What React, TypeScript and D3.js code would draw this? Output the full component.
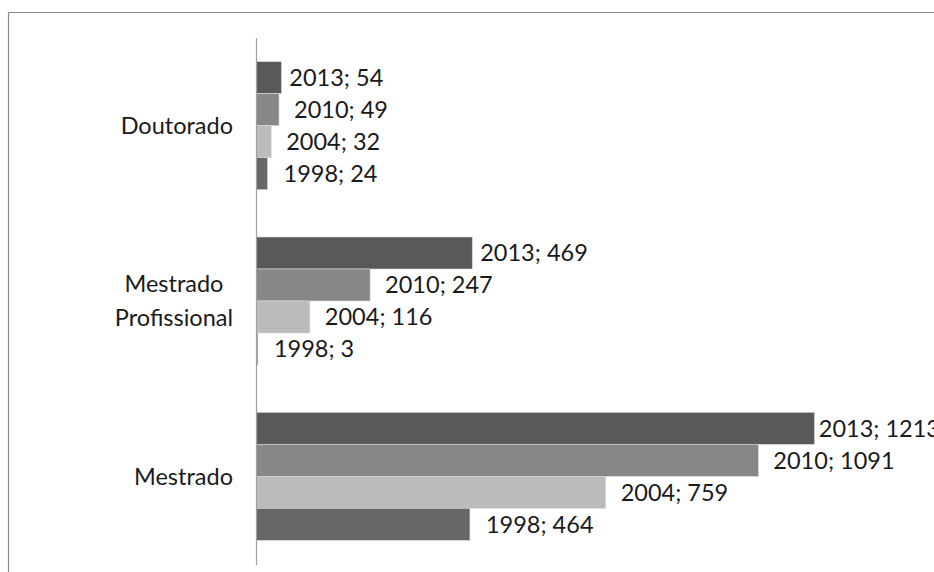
import React, { useEffect, useRef } from "react";
import * as d3 from "d3";

const categories = ["Doutorado", "Mestrado Profissional", "Mestrado"];
const categoryLines = [["Doutorado"], ["Mestrado", "Profissional"], ["Mestrado"]];
const years = ["2013", "2010", "2004", "1998"];
const values2013 = [54, 469, 1213];
const values2010 = [49, 247, 1091];
const values2004 = [32, 116, 759];
const values1998 = [24, 3, 464];

const seriesValues: Record<string, number[]> = {
  "2013": values2013,
  "2010": values2010,
  "2004": values2004,
  "1998": values1998,
};
const colors: Record<string, string> = {
  "2013": "#595959",
  "2010": "#878787",
  "2004": "#bbbbbb",
  "1998": "#676767",
};
const labelGap: Record<string, number> = { "2013": 8, "2010": 15, "2004": 15, "1998": 16 };

const W = 934;
const H = 572;
const FONT = "Lato, 'Open Sans', sans-serif";
const FS = 23.5;

export default function App() {
  const ref = useRef<SVGSVGElement | null>(null);

  useEffect(() => {
    const svg = d3.select(ref.current);
    svg.selectAll("*").remove();

    // outer frame
    svg.append("line").attr("x1", 8.5).attr("x2", W + 5).attr("y1", 12.5).attr("y2", 12.5)
      .attr("stroke", "#8a8a8a").attr("stroke-width", 1.2);
    svg.append("line").attr("x1", 8.5).attr("x2", 8.5).attr("y1", 12.5).attr("y2", H + 5)
      .attr("stroke", "#8a8a8a").attr("stroke-width", 1.2);

    const x = d3.scaleLinear().domain([0, 1400]).range([256.5, 256.5 + 1400 * 0.46]);
    const y = d3.scaleBand<string>().domain(categories).range([38, 564])
      .paddingInner(0.27).paddingOuter(0.135);
    const ySub = d3.scaleBand<string>().domain(years).range([0, y.bandwidth()]);

    const g = svg.append("g");
    categories.forEach((cat, ci) => {
      const cg = g.append("g").attr("transform", `translate(0,${y(cat)})`);
      years.forEach((yr) => {
        const v = seriesValues[yr][ci];
        cg.append("rect")
          .attr("x", x(0))
          .attr("y", ySub(yr)!)
          .attr("width", x(v) - x(0))
          .attr("height", ySub.bandwidth())
          .attr("fill", colors[yr])
          .attr("stroke", "#d9d9d9")
          .attr("stroke-width", 0.6);
        const t = cg.append("text")
          .attr("y", ySub(yr)! + ySub.bandwidth() / 2)
          .attr("dy", "0.36em")
          .attr("font-family", FONT)
          .attr("font-size", FS)
          .attr("fill", "#1a1a1a")
          .text(`${yr}; ${v}`);
        // like the reference, a label that does not fit is pushed back against its bar
        const tw = (t.node() as SVGTextElement).getComputedTextLength();
        const lx = Math.min(x(v) + labelGap[yr], Math.max(x(v) + 1, W - tw + 6));
        t.attr("x", lx);
      });
    });

    // axis line
    svg.append("line").attr("x1", 256.5).attr("x2", 256.5).attr("y1", 38).attr("y2", 565)
      .attr("stroke", "#a0a0a0").attr("stroke-width", 1.2);

    // category labels
    const rightEdge = 233;
    const lineH = 34;
    categories.forEach((cat, ci) => {
      const lines = categoryLines[ci];
      const cy = y(cat)! + y.bandwidth() / 2;
      const texts = lines.map((ln, li) =>
        svg.append("text")
          .attr("y", cy + (li - (lines.length - 1) / 2) * lineH)
          .attr("dy", "0.36em")
          .attr("font-family", FONT)
          .attr("font-size", FS)
          .attr("fill", "#1a1a1a")
          .attr("text-anchor", "middle")
          .text(ln)
      );
      const widths = texts.map((t) => (t.node() as SVGTextElement).getComputedTextLength());
      const maxW = Math.max(...widths);
      texts.forEach((t) => t.attr("x", rightEdge - maxW / 2));
    });
  }, []);

  return (
    <svg
      ref={ref}
      width={W}
      height={H}
      style={{ position: "absolute", left: 0, top: 0, display: "block", background: "#fff" }}
    />
  );
}
